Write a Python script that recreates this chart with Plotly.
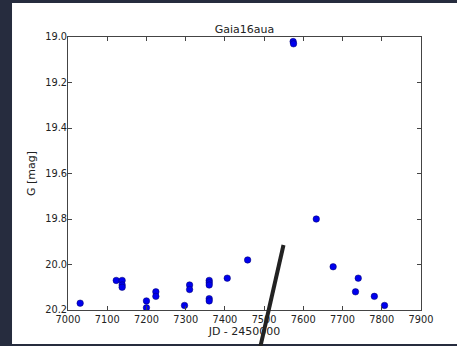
import plotly.graph_objects as go

# Gaia16aua light curve: Julian date offsets and G magnitudes
jd = [7031, 7123, 7138, 7138, 7138, 7200, 7200, 7224, 7224, 7297, 7310, 7310,
      7360, 7360, 7360, 7360, 7360, 7406, 7458, 7574, 7575, 7633, 7676, 7733,
      7740, 7781, 7807]
g_mag = [20.17, 20.07, 20.07, 20.09, 20.10, 20.16, 20.19, 20.12, 20.14, 20.18,
         20.09, 20.11, 20.07, 20.08, 20.09, 20.15, 20.16, 20.06, 19.98, 19.02,
         19.03, 19.80, 20.01, 20.12, 20.06, 20.14, 20.18]

x_ticks = [7000, 7100, 7200, 7300, 7400, 7500, 7600, 7700, 7800, 7900]
y_ticks = [19.0, 19.2, 19.4, 19.6, 19.8, 20.0, 20.2]

FONT = "DejaVu Sans"

fig = go.Figure()
fig.add_trace(go.Scatter(
    x=jd, y=g_mag, mode="markers",
    marker=dict(color="#0000ee", size=6.5, line=dict(color="#000066", width=0.5)),
    showlegend=False,
))

axis_common = dict(
    showgrid=False, zeroline=False, showline=True, linecolor="#444",
    linewidth=1, mirror="allticks", ticks="inside", ticklen=4,
    tickcolor="#444", tickfont=dict(family=FONT, size=9.8, color="#222"),
)

fig.update_xaxes(range=[7000, 7900], tickvals=x_ticks, ticklabelstandoff=0,
                 title=dict(text="JD - 2450000",
                            font=dict(family=FONT, size=11, color="#222"),
                            standoff=3),
                 **axis_common)
fig.update_yaxes(range=[20.2, 19.0], tickvals=y_ticks, tickformat=".1f",
                 ticklabelstandoff=-2,
                 title=dict(text="G [mag]",
                            font=dict(family=FONT, size=11, color="#222"),
                            standoff=7),
                 **axis_common)

# white page over a dark surround, plus the dark stroke near the bottom
fig.add_shape(type="rect", xref="paper", yref="paper",
              x0=-0.1586, x1=1.3, y0=-0.1245, y1=1.1245,
              fillcolor="white", line=dict(width=0), layer="below")
fig.add_shape(type="line", xref="paper", yref="paper",
              x0=0.5439, y0=-0.14, x1=0.6105, y1=0.238,
              line=dict(color="#222", width=4), layer="above")

fig.update_layout(
    width=457, height=346,
    margin=dict(l=68, r=36, t=37, b=36, autoexpand=False),
    paper_bgcolor="#262c3e", plot_bgcolor="white",
    title=dict(text="Gaia16aua", x=(68 + 421) / 2 / 457, xanchor="center",
               y=(346 - 29) / 346, yanchor="middle", yref="container",
               font=dict(family=FONT, size=11, color="#222")),
)

fig.write_html("out.html")
